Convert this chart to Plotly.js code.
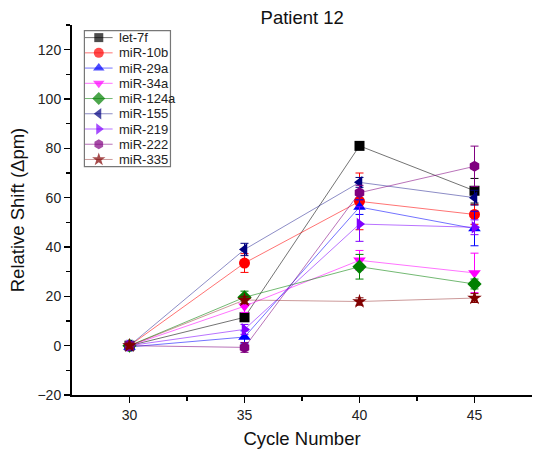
<!DOCTYPE html>
<html>
<head>
<meta charset="utf-8">
<script src="https://cdn.plot.ly/plotly-3.0.1.min.js"></script>
<style>html,body{margin:0;padding:0;background:#fff;}#chart{width:534px;height:458px;}</style>
</head>
<body>
<div id="chart"></div>
<script>
const cycles = [30, 35, 40, 45];
const seriesNames = ["let-7f", "miR-10b", "miR-29a", "miR-34a", "miR-124a", "miR-155", "miR-219", "miR-222", "miR-335"];
const let7f   = [0, 11.5, 81, 62.8];
const mir10b  = [0, 33.5, 58.5, 53.2];
const mir29a  = [-0.5, 3.5, 56.2, 47.5];
const mir34a  = [0, 16, 34.6, 29.5];
const mir124a = [0, 19.6, 32, 25];
const mir155  = [0, 39, 66.2, 60];
const mir219  = [0, 6.6, 49.3, 48];
const mir222  = [0, -0.7, 62, 72.7];
const mir335  = [0, 18.5, 17.9, 19.3];
const let7fErr   = [1.5, 1.5, 1, 5];
const mir10bErr  = [1.5, 3.8, 11.5, 4];
const mir29aErr  = [1.5, 2.5, 3, 7];
const mir34aErr  = [1.5, 2.5, 4, 8];
const mir124aErr = [1.5, 2.5, 5, 2];
const mir155Err  = [1.5, 2.5, 2, 3];
const mir219Err  = [1.5, 2, 7, 3];
const mir222Err  = [1.5, 2, 3, 8.2];
const mir335Err  = [1, 1.5, 1.5, 1.8];

const values = [let7f, mir10b, mir29a, mir34a, mir124a, mir155, mir219, mir222, mir335];
const errs = [let7fErr, mir10bErr, mir29aErr, mir34aErr, mir124aErr, mir155Err, mir219Err, mir222Err, mir335Err];
const colors = ["#000000", "#ff0000", "#0000ff", "#ff00ff", "#008000", "#000080", "#8000ff", "#800080", "#800000"];
const lineColors = ["rgba(0,0,0,0.55)", "rgba(255,0,0,0.55)", "rgba(0,0,255,0.55)", "rgba(255,0,255,0.55)", "rgba(0,128,0,0.55)", "rgba(0,0,128,0.45)", "rgba(128,0,255,0.55)", "rgba(128,0,128,0.55)", "rgba(128,0,0,0.4)"];
const symbols = ["square", "circle", "triangle-up", "triangle-down", "diamond", "triangle-left", "triangle-right", "hexagon", "star"];
const sizes = [10, 11, 11, 11, 11, 11, 11, 11, 11];

const font = "Liberation Sans, Arial, sans-serif";

const traces = seriesNames.map((n, i) => ({
  x: cycles, y: values[i], name: n, type: "scatter", mode: "lines+markers", showlegend: false,
  line: {color: lineColors[i], width: 1},
  marker: {color: colors[i], symbol: symbols[i], size: sizes[i], line: {width: 0}},
  error_y: {type: "data", array: errs[i], visible: true, color: colors[i], thickness: 1, width: 4}
}));

// Legend drawn on an overlay axis (Plotly's built-in legend has a 19px minimum row height)
const n = seriesNames.length;
const legendTraces = seriesNames.map((name, i) => ({
  x: [0, 14, 28], y: [n - 0.5 - i, n - 0.5 - i, n - 0.5 - i],
  xaxis: "x2", yaxis: "y2", type: "scatter", mode: "lines+markers", showlegend: false, hoverinfo: "skip",
  line: {color: lineColors[i], width: 1},
  marker: {color: colors[i], symbol: symbols[i], size: [0, sizes[i] - 1, 0], line: {width: 0}}
}));
const legendLabels = seriesNames.map((name, i) => ({
  text: name, x: 32, y: n - 0.5 - i, xref: "x2", yref: "y2", xanchor: "left", yanchor: "middle",
  showarrow: false, font: {size: 13, family: font, color: "#222"}
}));

const layout = {
  width: 534, height: 458,
  margin: {l: 72, r: 2, t: 25, b: 63},
  paper_bgcolor: "#fff", plot_bgcolor: "#fff",
  font: {family: font, color: "#222"},
  title: {text: "Patient 12", font: {size: 18.5, family: font, color: "#111"}, x: 0.566, xanchor: "center", y: 0.962, yanchor: "middle"},
  showlegend: false,
  annotations: legendLabels,
  shapes: [{type: "rect", xref: "x2 domain", yref: "y2 domain", x0: 0.005, x1: 0.995, y0: 0.004, y1: 0.996,
            line: {color: "#777777", width: 1.2}, fillcolor: "rgba(0,0,0,0)", layer: "above"}],
  xaxis: {
    range: [27.5, 47.5], tickvals: [30, 35, 40, 45], showgrid: false, zeroline: false,
    showline: true, linecolor: "#000", linewidth: 2, ticks: "outside", ticklen: 6, tickwidth: 1.5, tickcolor: "#000",
    minor: {tickvals: [32.5, 37.5, 42.5], ticks: "outside", ticklen: 4, tickwidth: 1.5, tickcolor: "#000", showgrid: false},
    tickfont: {size: 14, family: font, color: "#222"},
    title: {text: "Cycle Number", font: {size: 18.5, family: font, color: "#111"}, standoff: 10}
  },
  yaxis: {
    range: [-20, 130], tickvals: [-20, 0, 20, 40, 60, 80, 100, 120], showgrid: false, zeroline: false,
    showline: true, linecolor: "#000", linewidth: 2, ticks: "outside", ticklen: 6, tickwidth: 1.5, tickcolor: "#000",
    minor: {tickvals: [-10, 10, 30, 50, 70, 90, 110, 130], ticks: "outside", ticklen: 4, tickwidth: 1.5, tickcolor: "#000", showgrid: false},
    tickfont: {size: 14, family: font, color: "#222"},
    title: {text: "Relative Shift (Δpm)", font: {size: 18.5, family: font, color: "#111"}, standoff: 8}
  },
  xaxis2: {domain: [0.026, 0.215], anchor: "y2", range: [-1, 87], visible: false, fixedrange: true},
  yaxis2: {domain: [0.616, 0.9865], anchor: "x2", range: [0, 9], visible: false, fixedrange: true}
};
Plotly.newPlot("chart", traces.concat(legendTraces), layout, {displayModeBar: false, staticPlot: true});
</script>
</body>
</html>
